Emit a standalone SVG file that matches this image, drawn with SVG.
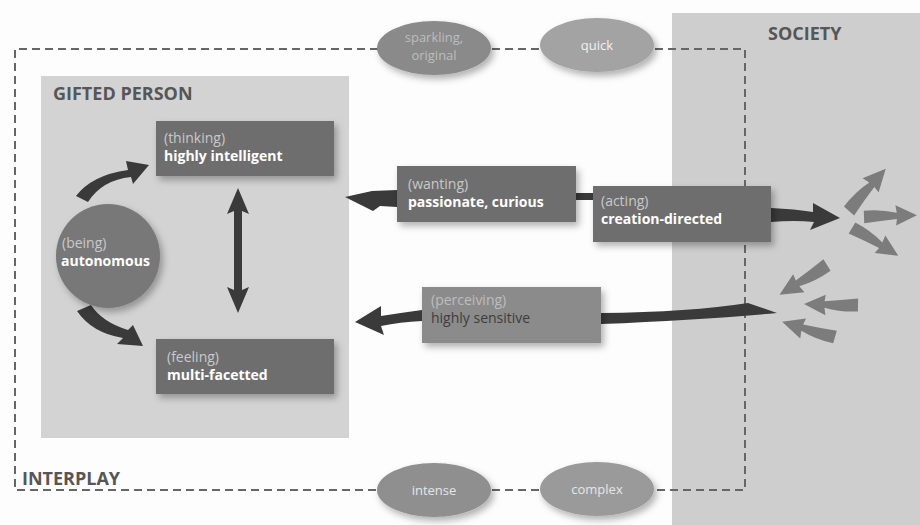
<svg xmlns="http://www.w3.org/2000/svg" width="920" height="525" viewBox="0 0 920 525">
<defs>
<filter id="sh" x="-20%" y="-20%" width="150%" height="160%">
<feDropShadow dx="3" dy="4" stdDeviation="3.5" flood-color="#000" flood-opacity="0.3"/>
</filter>
<path id="sa" d="M0,-6 Q16,-7 31,-3 L30,-10 L50,0 L30,9 L31,3 Q16,4 0,6 Z"/>
<style>
text{font-family:"Open Sans",Lato,"Liberation Sans",sans-serif}
.ttl{font-size:18px;font-weight:bold;fill:#565656}
.box{fill:#6e6e6e}
.pt{font-size:14px;fill:#c9c9c9}
.mt{font-size:14px;font-weight:bold;fill:#fff}
.et{font-size:13px;fill:#e6e6e6;text-anchor:middle}
.dash{fill:none;stroke:#666;stroke-width:2;stroke-dasharray:8,5}
.dk{fill:#3a3a3a}
.lt{fill:#7c7c7c}
</style>
</defs>
<rect width="920" height="525" fill="#fdfdfd"/>
<g id="society">
<rect x="672" y="13" width="248" height="512" fill="#cecece"/>
<text class="ttl" x="768" y="40">SOCIETY</text>
</g>
<g id="gifted-person">
<rect x="41" y="76" width="308" height="362" fill="#d3d3d3"/>
<text class="ttl" x="53" y="100">GIFTED PERSON</text>
</g>
<g id="interplay">
<path class="dash" d="M378,49 H15 V490 H378"/>
<path class="dash" d="M492,49 H540"/>
<path class="dash" d="M655,49 H745 V490 H655"/>
<path class="dash" d="M492,490 H540"/>
<text class="ttl" x="22" y="485">INTERPLAY</text>
</g>
<g id="connectors">
<path class="dk" d="M76,196 Q92,175 128,170 L126,161 L149,165 L133,184 L131,177 Q102,180 88,202 Z"/>
<path class="dk" d="M77,311 L91,305 Q102,322 128,330 L133,325 L143,346 L117,344 L123,338 Q92,333 77,311 Z"/>
<path class="dk" d="M238,188 L249,214 L242,211 V290 L249,287 L238,313 L227,287 L234,290 V211 L227,214 Z"/>
<path class="dk" d="M397,190 L372,191 L345,197 L373,211 L380,206 L397,207 Z"/>
<rect class="dk" x="575" y="193" width="19" height="7"/>
<path class="dk" d="M771,208 Q795,209 813,212 L813,203 L840,218 L810,230 L814,222 Q795,220 771,222 Z"/>
<path class="dk" d="M422,310 Q400,313 381,316 L381,306 L355,322 L384,335 L381,326 Q400,322 422,321 Z"/>
<path class="dk" d="M601,313 Q690,312 748,303 L777,313 Q700,320 601,324 Z"/>
<use href="#sa" class="lt" transform="translate(849,211) rotate(-49) scale(1.12)"/>
<use href="#sa" class="lt" transform="translate(864,217) rotate(-2) scale(1.06)"/>
<use href="#sa" class="lt" transform="translate(852,228) rotate(31) scale(1.08)"/>
<use href="#sa" class="lt" transform="translate(827,265) rotate(148) scale(1.12)"/>
<use href="#sa" class="lt" transform="translate(858,305) rotate(181) scale(1.08)"/>
<use href="#sa" class="lt" transform="translate(835,337) rotate(196) scale(1.1)"/>
</g>
<g id="sparkling">
<ellipse cx="434" cy="48" rx="57" ry="27" fill="#8a8a8a" filter="url(#sh)"/>
<text class="et" x="434" y="42" style="fill:#bdbdbd">sparkling,</text>
<text class="et" x="434" y="60" style="fill:#bdbdbd">original</text>
</g>
<g id="quick">
<ellipse cx="597" cy="45" rx="57" ry="27" fill="#a3a3a3" filter="url(#sh)"/>
<text class="et" x="597" y="50" style="fill:#f2f2f2">quick</text>
</g>
<g id="intense">
<ellipse cx="434" cy="490" rx="57" ry="27" fill="#8f8f8f" filter="url(#sh)"/>
<text class="et" x="434" y="495">intense</text>
</g>
<g id="complex">
<ellipse cx="597" cy="489" rx="57" ry="27" fill="#9a9a9a" filter="url(#sh)"/>
<text class="et" x="597" y="494">complex</text>
</g>
<g id="thinking">
<rect class="box" x="156" y="121" width="178" height="55" filter="url(#sh)"/>
<text class="pt" x="164" y="143">(thinking)</text>
<text class="mt" x="164" y="161">highly intelligent</text>
</g>
<g id="feeling">
<rect class="box" x="156" y="339" width="178" height="55" filter="url(#sh)"/>
<text class="pt" x="167" y="362">(feeling)</text>
<text class="mt" x="167" y="380">multi-facetted</text>
</g>
<g id="being">
<circle cx="108" cy="256" r="52" fill="#787878" filter="url(#sh)"/>
<text class="pt" x="62" y="248">(being)</text>
<text class="mt" x="61" y="266">autonomous</text>
</g>
<g id="wanting">
<rect class="box" x="397" y="166" width="179" height="56" filter="url(#sh)"/>
<text class="pt" x="408" y="189">(wanting)</text>
<text class="mt" x="408" y="207">passionate, curious</text>
</g>
<g id="acting">
<rect class="box" x="593" y="186" width="178" height="56" filter="url(#sh)"/>
<text class="pt" x="601" y="206">(acting)</text>
<text class="mt" x="601" y="224">creation-directed</text>
</g>
<g id="perceiving">
<rect x="422" y="287" width="179" height="56" fill="#8b8b8b" filter="url(#sh)"/>
<text class="pt" x="431" y="305" style="fill:#bdbdbd">(perceiving)</text>
<text class="mt" x="431" y="323" style="fill:#3d3d3d;font-weight:normal">highly sensitive</text>
</g>
</svg>
